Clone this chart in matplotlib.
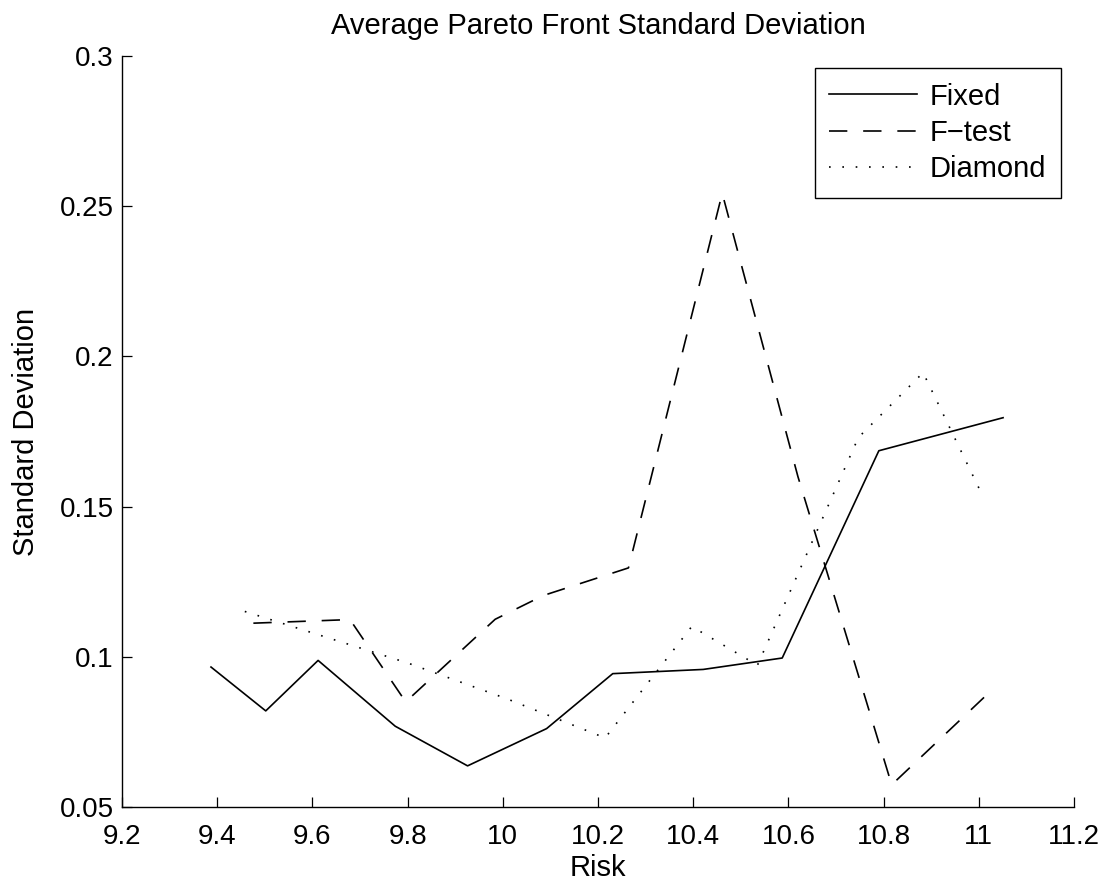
import matplotlib
matplotlib.use("Agg")
import matplotlib.pyplot as plt

# values
fixed_risk = [9.387, 9.502, 9.612, 9.774, 9.926, 10.092, 10.231, 10.421, 10.587, 10.790, 11.051]
fixed_std = [0.0966, 0.0820, 0.0988, 0.0769, 0.0637, 0.0761, 0.0944, 0.0958, 0.0996, 0.1686, 0.1796]

ftest_risk = [9.476, 9.679, 9.796, 9.984, 10.085, 10.264, 10.461, 10.62, 10.817, 11.011]
ftest_std = [0.1112, 0.1124, 0.0850, 0.1125, 0.1204, 0.1296, 0.2543, 0.160, 0.0574, 0.0865]

diamond_risk = [9.458, 9.801, 10.009, 10.215, 10.397, 10.535, 10.747, 10.883, 11.002]
diamond_std = [0.1151, 0.0979, 0.0860, 0.0730, 0.1101, 0.0972, 0.1730, 0.1946, 0.1556]

x_ticks = [9.2, 9.4, 9.6, 9.8, 10.0, 10.2, 10.4, 10.6, 10.8, 11.0, 11.2]
x_tick_labels = ["9.2", "9.4", "9.6", "9.8", "10", "10.2", "10.4", "10.6", "10.8", "11", "11.2"]
y_ticks = [0.05, 0.1, 0.15, 0.2, 0.25, 0.3]
y_tick_labels = ["0.05", "0.1", "0.15", "0.2", "0.25", "0.3"]

plt.rcParams["font.family"] = ["Liberation Sans", "DejaVu Sans"]

fig = plt.figure(figsize=(11.11, 8.88), dpi=100)
ax = fig.add_axes([0.1098, 0.0912, 0.8569, 0.8457])

lw = 1.2
ax.plot(fixed_risk, fixed_std, color="black", linewidth=lw, label="Fixed")
ax.plot(ftest_risk, ftest_std, color="black", linewidth=lw, dashes=(11, 9.5), label="F\u2212test")
ax.plot(diamond_risk, diamond_std, color="black", linewidth=lw, dashes=(1, 7), label="Diamond")

ax.set_xlim(9.2, 11.2)
ax.set_ylim(0.05, 0.3)
ax.set_xticks(x_ticks)
ax.set_xticklabels(x_tick_labels)
ax.set_yticks(y_ticks)
ax.set_yticklabels(y_tick_labels)
ax.tick_params(direction="in", length=7.5, width=0.9, labelsize=20)
ax.tick_params(axis="x", pad=12)
ax.tick_params(axis="y", pad=6)

ax.spines["top"].set_visible(False)
ax.spines["right"].set_visible(False)
for side in ["left", "bottom"]:
    ax.spines[side].set_linewidth(1.0)

ax.set_title("Average Pareto Front Standard Deviation", fontsize=21, pad=16)
ax.set_xlabel("Risk", fontsize=21, labelpad=3)
ax.set_ylabel("Standard Deviation", fontsize=21, labelpad=14)

leg = ax.legend(loc="upper right", bbox_to_anchor=(0.9863, 0.984), borderaxespad=0,
                fontsize=21, handlelength=3.0, handletextpad=0.45, labelspacing=0.28,
                borderpad=0.5, fancybox=False, framealpha=1, edgecolor="black")
leg.get_frame().set_linewidth(1.0)

fig.savefig("out.png", dpi=100, facecolor="white")
